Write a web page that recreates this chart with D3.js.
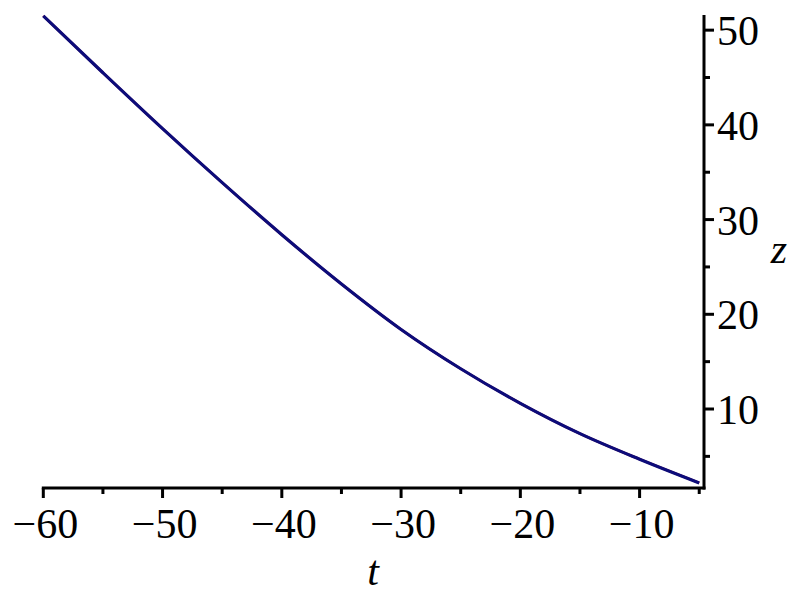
<!DOCTYPE html>
<html><head><meta charset="utf-8">
<script src="https://cdn.jsdelivr.net/npm/d3@7"></script>
<style>body{margin:0;background:#fff}svg{display:block}</style>
</head><body>
<svg id="c" width="800" height="600"></svg>
<script>
const tValues = [-60,-55,-50,-45,-40,-35,-30,-25,-20,-15,-10,-5];
const zValues = [51.5,45.5,39.6,33.9,28.4,23.2,18.4,14.25,10.6,7.4,4.7,2.2];
const xTicks = [-60,-50,-40,-30,-20,-10];
const xMinor = [-55,-45,-35,-25,-15,-5];
const yTicks = [10,20,30,40,50];
const yMinor = [5,15,25,35,45];

const svg = d3.select("#c");
const x = d3.scaleLinear().domain([-60,-4.6]).range([43.3,704]);
const y = d3.scaleLinear().domain([1.66,51.6]).range([488,15]);
const font = "'Liberation Serif','Times New Roman',serif";
const data = tValues.map((t,i)=>({t, z:zValues[i]}));
const line = d3.line().x(d=>x(d.t)).y(d=>y(d.z)).curve(d3.curveMonotoneX);

svg.append("path").attr("d",line(data)).attr("fill","none").attr("stroke","#c00000").attr("stroke-width",2.5);
svg.append("path").attr("d",line(data)).attr("fill","none").attr("stroke","#0c0c7a").attr("stroke-width",3.2);

// x axis
const gx = svg.append("g");
gx.append("line").attr("x1",x(-60)-1.5).attr("x2",x(-4.6)+1.5).attr("y1",488).attr("y2",488).attr("stroke","#000").attr("stroke-width",3);
gx.selectAll(".xt").data(xTicks).join("line").attr("x1",d=>x(d)).attr("x2",d=>x(d)).attr("y1",488).attr("y2",498).attr("stroke","#000").attr("stroke-width",3);
gx.selectAll(".xm").data(xMinor).join("line").attr("x1",d=>x(d)).attr("x2",d=>x(d)).attr("y1",488).attr("y2",494).attr("stroke","#000").attr("stroke-width",3);
gx.selectAll("text").data(xTicks).join("text").attr("x",d=>x(d)+2).attr("y",538).attr("text-anchor","middle")
  .attr("font-family",font).attr("font-size",42).text(d=>"\u2212"+Math.abs(d));
svg.append("text").attr("x",373).attr("y",585).attr("text-anchor","middle").attr("font-family",font).attr("font-style","italic").attr("font-size",42).text("t");

// y axis
const gy = svg.append("g");
gy.append("line").attr("x1",704).attr("x2",704).attr("y1",y(51.6)).attr("y2",489.5).attr("stroke","#000").attr("stroke-width",3);
gy.selectAll(".yt").data(yTicks).join("line").attr("x1",704).attr("x2",714).attr("y1",d=>y(d)).attr("y2",d=>y(d)).attr("stroke","#000").attr("stroke-width",3);
gy.selectAll(".ym").data(yMinor).join("line").attr("x1",704).attr("x2",710).attr("y1",d=>y(d)).attr("y2",d=>y(d)).attr("stroke","#000").attr("stroke-width",3);
gy.selectAll("text").data(yTicks).join("text").attr("x",717).attr("y",d=>y(d)+15).attr("text-anchor","start")
  .attr("font-family",font).attr("font-size",42).text(d=>d);
svg.append("text").attr("x",779).attr("y",263).attr("text-anchor","middle").attr("font-family",font).attr("font-style","italic").attr("font-size",42).text("z");
</script>
</body></html>
